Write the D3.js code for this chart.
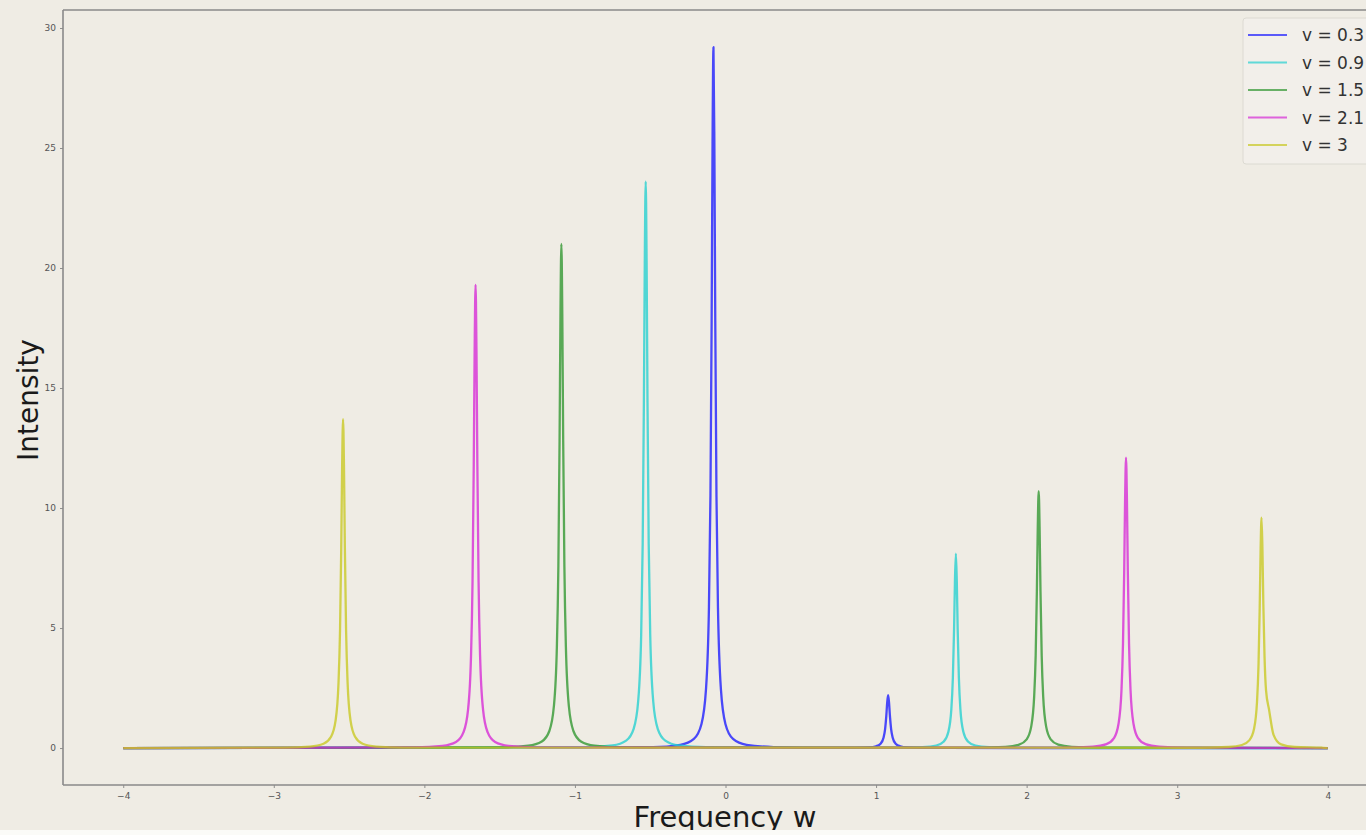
<!DOCTYPE html>
<html>
<head>
<meta charset="utf-8">
<script src="https://cdn.jsdelivr.net/npm/d3@7"></script>
<style>
  html, body { margin: 0; padding: 0; background: #efece4; }
  svg { display: block; }
  text { font-family: "DejaVu Sans", sans-serif; }
</style>
</head>
<body>
<svg id="chart" width="1366" height="835"></svg>
<script>
// Spectra for five coupling values: each trace has two Lorentzian lines on a flat baseline.
const seriesLabels = ["v = 0.3", "v = 0.9", "v = 1.5", "v = 2.1", "v = 3"];
const seriesColors = ["#1a1aff", "#22d0d0", "#2e962e", "#d628d6", "#c8c820"];

const freqV03 = [-4,
  -0.48, -0.30, -0.21, -0.16, -0.13, -0.11, -0.10, -0.092, -0.086, -0.08, -0.074, -0.068, -0.06, -0.05, -0.03, 0.00, 0.05, 0.14, 0.32,
  0.68, 0.86, 0.95, 1.00, 1.03, 1.05, 1.06, 1.068, 1.074, 1.08, 1.086, 1.092, 1.10, 1.11, 1.13, 1.16, 1.21, 1.30, 1.48,
  4];
const intV03 = [0,
  0.041, 0.134, 0.38, 0.99, 2.41, 5.84, 10.5, 17.8, 25.2, 29.2, 25.2, 17.8, 10.5, 5.84, 2.41, 0.99, 0.38, 0.134, 0.041,
  0.003, 0.01, 0.029, 0.075, 0.18, 0.44, 0.79, 1.34, 1.9, 2.2, 1.9, 1.34, 0.79, 0.44, 0.18, 0.075, 0.029, 0.01, 0.003,
  0];

const freqV09 = [-4,
  -0.93, -0.75, -0.66, -0.61, -0.58, -0.56, -0.55, -0.542, -0.536, -0.53, -0.524, -0.518, -0.51, -0.50, -0.48, -0.45, -0.40, -0.31, -0.13,
  1.13, 1.31, 1.40, 1.45, 1.48, 1.50, 1.51, 1.518, 1.524, 1.53, 1.536, 1.542, 1.55, 1.56, 1.58, 1.61, 1.66, 1.75, 1.93,
  4];
const intV09 = [0,
  0.033, 0.109, 0.31, 0.80, 1.95, 4.72, 8.5, 14.4, 20.3, 23.6, 20.3, 14.4, 8.5, 4.72, 1.95, 0.80, 0.31, 0.109, 0.033,
  0.011, 0.037, 0.106, 0.275, 0.67, 1.62, 2.92, 4.94, 6.98, 8.1, 6.98, 4.94, 2.92, 1.62, 0.67, 0.275, 0.106, 0.037, 0.011,
  0];

const freqV15 = [-4,
  -1.49, -1.31, -1.22, -1.17, -1.14, -1.12, -1.11, -1.102, -1.096, -1.09, -1.084, -1.078, -1.07, -1.06, -1.04, -1.01, -0.96, -0.87, -0.69,
  1.68, 1.86, 1.95, 2.00, 2.03, 2.05, 2.06, 2.068, 2.074, 2.08, 2.086, 2.092, 2.10, 2.11, 2.13, 2.16, 2.21, 2.30, 2.48,
  4];
const intV15 = [0,
  0.029, 0.097, 0.275, 0.71, 1.73, 4.2, 7.56, 12.8, 18.1, 21.0, 18.1, 12.8, 7.56, 4.2, 1.73, 0.71, 0.275, 0.097, 0.029,
  0.015, 0.049, 0.14, 0.36, 0.88, 2.14, 3.85, 6.53, 9.22, 10.7, 9.22, 6.53, 3.85, 2.14, 0.88, 0.36, 0.14, 0.049, 0.015,
  0];

const freqV21 = [-4,
  -2.06, -1.88, -1.79, -1.74, -1.71, -1.69, -1.68, -1.672, -1.666, -1.66, -1.654, -1.648, -1.64, -1.63, -1.61, -1.58, -1.53, -1.44, -1.26,
  2.26, 2.44, 2.53, 2.58, 2.61, 2.63, 2.64, 2.648, 2.654, 2.66, 2.666, 2.672, 2.68, 2.69, 2.71, 2.74, 2.79, 2.88, 3.06,
  4];
const intV21 = [0,
  0.027, 0.089, 0.25, 0.66, 1.59, 3.86, 6.95, 11.8, 16.6, 19.3, 16.6, 11.8, 6.95, 3.86, 1.59, 0.66, 0.25, 0.089, 0.027,
  0.017, 0.056, 0.16, 0.41, 1.0, 2.42, 4.36, 7.38, 10.4, 12.1, 10.4, 7.38, 4.36, 2.42, 1.0, 0.41, 0.16, 0.056, 0.017,
  0];

const freqV3 = [-4,
  -2.94, -2.76, -2.67, -2.62, -2.59, -2.57, -2.56, -2.552, -2.546, -2.54, -2.534, -2.528, -2.52, -2.51, -2.49, -2.46, -2.41, -2.32, -2.14,
  3.16, 3.34, 3.43, 3.48, 3.51, 3.53, 3.54, 3.548, 3.554, 3.56, 3.566, 3.572, 3.58, 3.59, 3.61, 3.64, 3.69, 3.78, 3.96,
  4];
const intV3 = [0,
  0.019, 0.063, 0.18, 0.47, 1.13, 2.74, 4.93, 8.36, 11.8, 13.7, 11.8, 8.36, 4.93, 2.74, 1.13, 0.47, 0.18, 0.063, 0.019,
  0.013, 0.044, 0.126, 0.33, 0.79, 1.92, 3.46, 5.86, 8.28, 9.6, 8.3, 6.0, 3.8, 2.4, 1.6, 0.55, 0.15, 0.044, 0.013,
  0];

const xTicks = [-4, -3, -2, -1, 0, 1, 2, 3, 4];
const yTicks = [0, 5, 10, 15, 20, 25, 30];

const seriesFreq = [freqV03, freqV09, freqV15, freqV21, freqV3];
const seriesInt = [intV03, intV09, intV15, intV21, intV3];

const svg = d3.select("#chart");
const W = 1366, H = 835;

// plot frame
const frame = { left: 63, right: 1388, top: 10, bottom: 785 };
const x = d3.scaleLinear().domain([-4.4, 4.4]).range([frame.left, frame.right]);
const y = d3.scaleLinear().domain([-1.54, 30.75]).range([frame.bottom, frame.top]);

svg.append("rect").attr("width", W).attr("height", H).attr("fill", "#efece4");

const clipId = "plot-clip";
svg.append("clipPath").attr("id", clipId)
  .append("rect")
  .attr("x", frame.left).attr("y", frame.top)
  .attr("width", frame.right - frame.left).attr("height", frame.bottom - frame.top);

// axes
const fmt = d => d < 0 ? "\u2212" + Math.abs(d) : String(d);
const xAxis = svg.append("g")
  .attr("transform", `translate(0,${frame.bottom})`)
  .call(d3.axisBottom(x).tickValues(xTicks).tickFormat(fmt).tickSize(3).tickPadding(5));
const yAxis = svg.append("g")
  .attr("transform", `translate(${frame.left},0)`)
  .call(d3.axisLeft(y).tickValues(yTicks).tickFormat(fmt).tickSize(3).tickPadding(4));
[xAxis, yAxis].forEach(g => {
  g.select(".domain").remove();
  g.selectAll(".tick line").attr("stroke", "#777").attr("stroke-width", 0.8);
  g.selectAll(".tick text").attr("fill", "#555").style("font-size", "9px")
    .style("font-family", "'DejaVu Sans', sans-serif");
});

// spines
const spine = svg.append("g").attr("stroke", "#8a8a8a").attr("stroke-width", 1.6).attr("fill", "none");
spine.append("line").attr("x1", frame.left).attr("x2", frame.left).attr("y1", frame.top).attr("y2", frame.bottom);
spine.append("line").attr("x1", frame.left).attr("x2", frame.right).attr("y1", frame.bottom).attr("y2", frame.bottom);
spine.append("line").attr("x1", frame.left).attr("x2", frame.right).attr("y1", frame.top).attr("y2", frame.top);

// traces
const line = d3.line()
  .x(d => x(d[0]))
  .y(d => y(d[1]))
  .curve(d3.curveMonotoneX);

const traces = svg.append("g").attr("clip-path", `url(#${clipId})`);
seriesFreq.forEach((fr, i) => {
  const pts = fr.map((f, k) => [f, seriesInt[i][k]]);
  traces.append("path")
    .attr("d", line(pts))
    .attr("fill", "none")
    .attr("stroke", seriesColors[i])
    .attr("stroke-opacity", 0.78)
    .attr("stroke-width", 2.3)
    .attr("stroke-linejoin", "round");
});

// legend
const legend = svg.append("g").attr("transform", "translate(1243,18)");
legend.append("rect")
  .attr("x", 0).attr("y", 0).attr("width", 140).attr("height", 146)
  .attr("rx", 3).attr("ry", 3)
  .attr("fill", "#f2f0ea").attr("fill-opacity", 0.9)
  .attr("stroke", "#dcdad2").attr("stroke-width", 1);
seriesLabels.forEach((lab, i) => {
  const yy = 17 + i * 27.5;
  legend.append("line")
    .attr("x1", 5).attr("x2", 44).attr("y1", yy).attr("y2", yy)
    .attr("stroke", seriesColors[i]).attr("stroke-opacity", 0.7).attr("stroke-width", 2);
  legend.append("text")
    .attr("x", 59).attr("y", yy + 6)
    .attr("fill", "#333")
    .style("font-size", "17px")
    .text(lab);
});

// axis titles
svg.append("text")
  .attr("x", 725).attr("y", 827)
  .attr("text-anchor", "middle")
  .attr("fill", "#1a1a1a")
  .style("font-size", "29px")
  .text("Frequency w");
svg.append("text")
  .attr("transform", "translate(38,400) rotate(-90)")
  .attr("text-anchor", "middle")
  .attr("fill", "#1a1a1a")
  .style("font-size", "28px")
  .text("Intensity");

// strip along the bottom edge
svg.append("rect").attr("x", 0).attr("y", 830).attr("width", W).attr("height", 5).attr("fill", "#fbfbf8");
</script>
</body>
</html>
